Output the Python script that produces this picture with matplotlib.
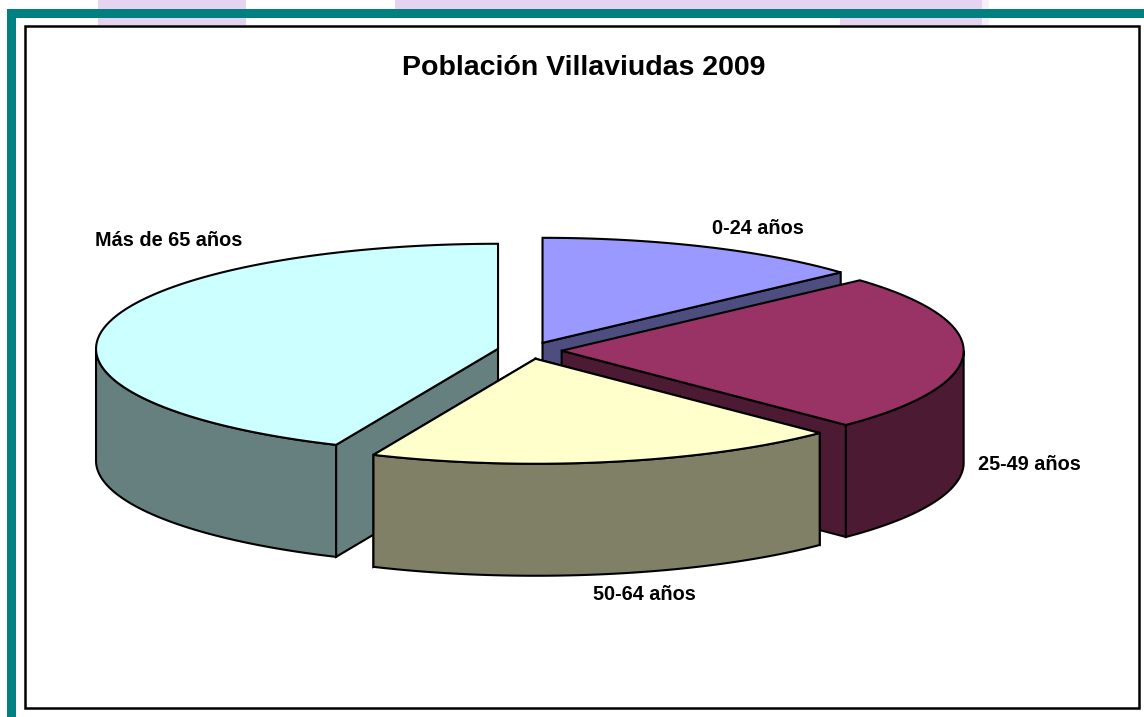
import numpy as np
import matplotlib
matplotlib.use("Agg")
import matplotlib.pyplot as plt
from matplotlib.patches import Polygon, Rectangle

plt.rcParams["font.family"] = ["Liberation Sans", "DejaVu Sans"]

title = "Población Villaviudas 2009"
labels = ["0-24 años", "25-49 años", "50-64 años", "Más de 65 años"]
values = [13.3, 24.2, 19.1, 43.4]
top_colors = ["#9999FF", "#993366", "#FFFFCC", "#CCFFFF"]
side_colors = ["#4D4D80", "#4D1A33", "#808066", "#668080"]
label_pos = [(758, 228), (1029, 465), (644, 595), (169, 241)]

cx, cy = 529.5, 350.5
rx, ry = 402, 105
depth = 112
explode = 0.08

fig = plt.figure(figsize=(11.44, 7.17), dpi=100)
ax = fig.add_axes([0, 0, 1, 1])
ax.set_xlim(0, 1144)
ax.set_ylim(717, 0)
ax.axis("off")

# page background behind the chart
for x0, x1, y1, col in [(98, 246, 25, "#E5D3EF"), (395, 982, 9, "#E5D3EF"), (840, 982, 25, "#E5D3EF"),
                        (982, 989, 25, "#F6EFFA")]:
    ax.add_patch(Rectangle((x0, 0), x1 - x0, y1, fc=col, ec="none", zorder=1))
ax.add_patch(Rectangle((7, 9), 1137, 9, fc="#008080", ec="none", zorder=2))
ax.add_patch(Rectangle((7, 9), 9, 708, fc="#008080", ec="none", zorder=2))
ax.add_patch(Rectangle((25, 26), 1114, 682, fc="white", ec="black", lw=1.8, zorder=2))


def arc(x0, y0, t0, t1):
    t = np.radians(np.linspace(t0, t1, 120))
    return np.column_stack([x0 + rx * np.sin(t), y0 - ry * np.cos(t)])


def add_poly(pts, fc, z):
    ax.add_patch(Polygon(pts, closed=True, fc=fc, ec="black", lw=1.5, joinstyle="miter", zorder=z))


def draw_slice(t0, t1, top, side, z):
    mid = np.radians((t0 + t1) / 2)
    x0 = cx + explode * rx * np.sin(mid)
    y0 = cy - explode * ry * np.cos(mid)
    down = np.array([0, depth])
    apex = np.array([[x0, y0]])

    # cut walls, the one that faces the viewer
    first = arc(x0, y0, t0, t0)[0]
    last = arc(x0, y0, t1, t1)[0]
    for edge in (first, last):
        if edge[1] > y0 or t1 < 90:
            add_poly(np.vstack([apex, [edge], [edge + down], apex + down]), side, z)

    # outer wall only where the rim is at the front
    a, b = max(t0, 90), min(t1, 270)
    if a < b:
        rim = arc(x0, y0, a, b)
        add_poly(np.vstack([rim, rim[::-1] + down]), side, z)

    add_poly(np.vstack([apex, arc(x0, y0, t0, t1)]), top, z + 0.5)


angles = np.concatenate([[0], np.cumsum(values)]) / np.sum(values) * 360
for i, z in zip([3, 0, 1, 2], [3, 4, 5, 6]):
    draw_slice(angles[i], angles[i + 1], top_colors[i], side_colors[i], z)

ax.text(583.5, 68, title, fontsize=20.5, fontweight="bold", ha="center", va="center", zorder=8)
for lab, (x, y) in zip(labels, label_pos):
    ax.text(x, y, lab, fontsize=14.3, fontweight="bold", ha="center", va="center", zorder=8)

fig.savefig("out.png", dpi=100)
